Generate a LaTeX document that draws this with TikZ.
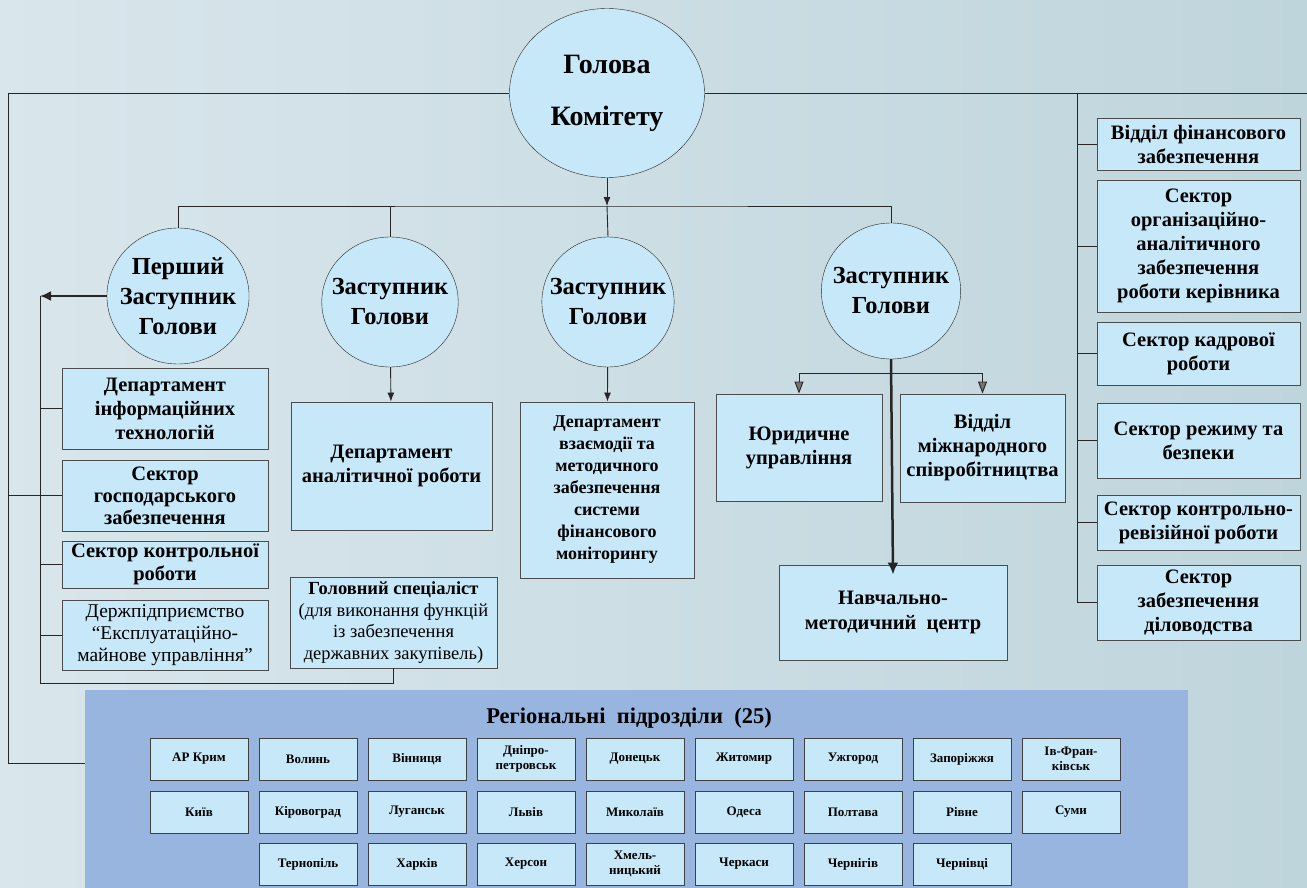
\documentclass[tikz,border=0pt]{standalone}
\usepackage{fontspec}
\setmainfont{Liberation Serif}
\usetikzlibrary{shapes.geometric,arrows.meta}

\definecolor{bgblue}{HTML}{D9E6EC}
\definecolor{bgteal}{HTML}{BFD5DC}
\definecolor{boxblue}{HTML}{C7E8F8}
\definecolor{panelblue}{HTML}{97B5DF}
\definecolor{linegray}{HTML}{262626}

\tikzset{
  deputy/.style={ellipse, draw=black!85, fill=boxblue, align=center, inner ysep=0pt,
    font=\bfseries\fontsize{24.5}{30}\selectfont},
  unit/.style={draw=black!70, fill=boxblue, align=center, inner sep=1pt, line width=0.9pt,
    font=\bfseries\fontsize{20.5}{24}\selectfont},
  region/.style={draw=black!75, fill=boxblue, align=center, inner sep=1pt, line width=0.9pt,
    minimum width=98pt, minimum height=42pt, font=\bfseries\fontsize{13}{15}\selectfont},
  link/.style={draw=linegray, line width=0.9pt},
}

\begin{document}
\begin{tikzpicture}[x=1pt,y=-1pt]
  \useasboundingbox (0,0) rectangle (1307,888);
  \shade[left color=bgblue, right color=bgteal] (0,0) rectangle (1307,888);

  % head of the committee
  \node[deputy, minimum width=195pt, minimum height=169pt, inner xsep=0pt,
        font=\bfseries\fontsize{28}{52}\selectfont] (head) at (607,93) {Голова\\Комітету};

  % deputies
  \node[deputy, minimum width=141pt, minimum height=136pt, inner xsep=-8pt] (d1) at (178,296) {Перший\\Заступник\\Голови};
  \node[deputy, minimum width=135pt, minimum height=130pt, inner xsep=-10pt] (d2) at (390,302) {Заступник\\Голови};
  \node[deputy, minimum width=131pt, minimum height=130pt, inner xsep=-11.5pt] (d3) at (608,302) {Заступник\\Голови};
  \node[deputy, minimum width=137pt, minimum height=136pt, inner xsep=-9pt] (d4) at (891,291) {Заступник\\Голови};

  % units of the first deputy
  \node[unit, minimum width=206pt, minimum height=81pt] (l1) at (165,408.5) {Департамент\\інформаційних\\технологій};
  \node[unit, minimum width=206pt, minimum height=71pt, font=\bfseries\fontsize{20.5}{22}\selectfont] (l2) at (165,495.5)
    {Сектор\\господарського\\забезпечення};
  \node[unit, minimum width=206pt, minimum height=47pt, font=\bfseries\fontsize{20.5}{23}\selectfont] (l3) at (165,564.5)
    {Сектор контрольної\\роботи};
  \node[unit, minimum width=206pt, minimum height=70pt, font=\fontsize{19.5}{22}\selectfont] (l4) at (165,635)
    {Держпідприємство\\“Експлуатаційно-\\майнове управління”};

  % units of the other deputies
  \node[unit, minimum width=201pt, minimum height=128pt] (an) at (391.5,466) {Департамент\\аналітичної роботи};
  \node[unit, minimum width=207pt, minimum height=91pt, font=\fontsize{18.5}{21.5}\selectfont] (spec) at (393.5,622.5)
    {\textbf{Головний спеціаліст}\\(для виконання функцій\\із забезпечення\\державних закупівель)};
  \node[unit, minimum width=174pt, minimum height=176pt, font=\bfseries\fontsize{18}{22}\selectfont] (mon) at (607,490)
    {Департамент\\взаємодії та\\методичного\\забезпечення\\системи\\фінансового\\моніторингу};
  \node[unit, minimum width=166pt, minimum height=107pt] (jur) at (799,447.5) {Юридичне\\управління};
  \node[unit, minimum width=165pt, minimum height=108pt] (intl) at (982.5,448) {Відділ\\міжнародного\\співробітництва};
  \node[unit, minimum width=228pt, minimum height=95pt, font=\bfseries\fontsize{20.5}{25}\selectfont] (edu) at (893,612.5)
    {Навчально-\\методичний \ центр};

  % units under the head
  \node[unit, minimum width=203pt, minimum height=52pt] (r1) at (1198.5,144) {Відділ фінансового\\забезпечення};
  \node[unit, minimum width=203pt, minimum height=132pt] (r2) at (1198.5,246) {Сектор\\організаційно-\\аналітичного\\забезпечення\\роботи керівника};
  \node[unit, minimum width=203pt, minimum height=63pt] (r3) at (1198.5,353.5) {Сектор кадрової\\роботи};
  \node[unit, minimum width=203pt, minimum height=75pt] (r4) at (1198.5,440.5) {Сектор режиму та\\безпеки};
  \node[unit, minimum width=203pt, minimum height=55pt] (r5) at (1198.5,522.5) {Сектор контрольно-\\ревізійної роботи};
  \node[unit, minimum width=203pt, minimum height=75pt] (r6) at (1198.5,602.5) {Сектор\\забезпечення\\діловодства};

  % regional units
  \node[fill=panelblue, minimum width=1103pt, minimum height=200pt, inner sep=0pt] (panel) at (636.5,790) {};
  \node[font=\bfseries\fontsize{22.5}{24}\selectfont] (rtitle) at (629,718) {Регіональні \ підрозділи \ (25)};
  \foreach \name [count=\i] in {АР Крим, Волинь, Вінниця, {Дніпро-\\петровськ}, Донецьк, Житомир, Ужгород, Запоріжжя, {Ів-Фран-\\ківськ}}
    \node[region] (ra\i) at (199+109*\i-109,759) {\name};
  \foreach \name [count=\i] in {Київ, Кіровоград, Луганськ, Львів, Миколаїв, Одеса, Полтава, Рівне, Суми}
    \node[region] (rb\i) at (199+109*\i-109,812) {\name};
  \foreach \name [count=\i from 2] in {Тернопіль, Харків, Херсон, {Хмель-\\ницький}, Черкаси, Чернігів, Чернівці}
    \node[region] (rc\i) at (199+109*\i-109,864) {\name};

  % connectors
  \coordinate (lt) at (8,95);
  \coordinate (pl) at (85,763);
  \coordinate (rv) at (1077,96);
  \coordinate (re) at (1307,96);
  \coordinate (bus) at (607,206);
  \coordinate (lb) at (40,683);
  \coordinate (jb) at (891,373);

  \draw[link] (head.west) -- (head.west -| lt) |- (pl);
  \draw[link] (head.east) -- (head.east -| re);
  \draw[link] (head.east -| rv) |- (r6.west);
  \foreach \b in {r1,r2,r3,r4,r5}
    \draw[link] (rv |- \b.west) -- (\b.west);

  \draw[link, -{Latex[length=9pt,width=7pt]}] (head) -- (bus);
  \draw[link] (d1.north) |- (bus) -| (d4.north);
  \draw[link] (d2.north) -- (d2.north |- bus);
  \draw[link] (bus) -- (d3.north);

  \draw[link, line width=2pt, -{Latex[length=11pt,width=10pt]}] (d1.west) -- (d1.west -| lb);
  \draw[link] (d1.west -| lb) -- (lb) -| (spec.south);
  \foreach \b in {l1,l3,l4}
    \draw[link] (lb |- \b.west) -- (\b.west);
  \draw[link] (l2.west -| lt) -- (l2.west);

  \draw[link, -{Latex[length=9pt,width=7pt]}] (d2) -- (an);
  \draw[link, -{Latex[length=9pt,width=7pt]}] (d3) -- (mon);

  \draw[link, line width=2.5pt, -{Latex[length=12pt,width=11pt]}] (d4.south) -- ([yshift=-10pt]edu.north);
  \draw[link, -{Triangle[length=12pt,width=9pt,fill=black!55]}] (jb) -| (jur.north);
  \draw[link, -{Triangle[length=12pt,width=9pt,fill=black!55]}] (jb) -| (intl.north);
\end{tikzpicture}
\end{document}
